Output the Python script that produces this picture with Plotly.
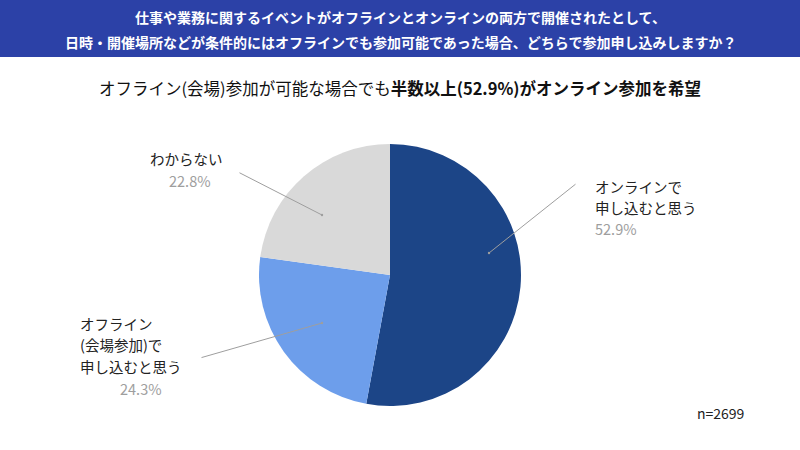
import plotly.graph_objects as go

# 回答の内訳（%）
labels = ["オンラインで<br>申し込むと思う", "オフライン<br>(会場参加)で<br>申し込むと思う", "わからない"]
values = [52.9, 24.3, 22.8]
colors = ["#1c4587", "#6d9eeb", "#d9d9d9"]

title_lines = [
    "仕事や業務に関するイベントがオフラインとオンラインの両方で開催されたとして、",
    "日時・開催場所などが条件的にはオフラインでも参加可能であった場合、どちらで参加申し込みしますか？",
]
subtitle_normal = "オフライン(会場)参加が可能な場合でも"
subtitle_bold = "半数以上(52.9%)がオンライン参加を希望"
n_note = "n=2699"

W, H = 800, 450
FONT = "Noto Sans CJK JP"

fig = go.Figure(go.Pie(
    labels=labels,
    values=values,
    marker=dict(colors=colors),
    sort=False,
    direction="clockwise",
    rotation=0,
    textinfo="none",
    hoverinfo="label+percent",
    domain=dict(x=[259 / W, 521 / W], y=[1 - 406 / H, 1 - 144 / H]),
    showlegend=False,
))

# label layout per slice: dot (px), line end (px), first text line (px)
label_pos = [
    dict(dot=(489, 253), end=(577, 183), x=593, y=186),
    dict(dot=(322, 323), end=(200, 358), x=78, y=323),
    dict(dot=(322, 215), end=(238, 172), x=148, y=158),
]
pct_pos = [(593, 229, "left"), (141, 388, "center"), (190, 180, "center")]
LINE_GAP = 21.5

def px(x, y):
    return x / W, 1 - y / H

annotations = []
for i, (lab, val) in enumerate(zip(labels, values)):
    p = label_pos[i]
    dx, dy = px(*p["dot"])
    annotations.append(dict(
        x=dx, y=dy, xref="paper", yref="paper", text="",
        showarrow=True, arrowhead=6, arrowsize=0.6, arrowwidth=1,
        arrowcolor="#9e9e9e", axref="pixel", ayref="pixel",
        ax=p["end"][0] - p["dot"][0], ay=p["end"][1] - p["dot"][1],
        standoff=0, startstandoff=0,
    ))
    for k, line in enumerate(lab.split("<br>")):
        tx, ty = px(p["x"], p["y"] + LINE_GAP * k)
        annotations.append(dict(
            x=tx, y=ty, xref="paper", yref="paper", text=line,
            showarrow=False, xanchor="left", yanchor="middle",
            font=dict(family=FONT, size=14.5, color="#222222"),
        ))
    qx, qy, qa = pct_pos[i]
    qx, qy = px(qx, qy)
    annotations.append(dict(
        x=qx, y=qy, xref="paper", yref="paper", text=f"{val}%",
        showarrow=False, xanchor=qa, yanchor="middle",
        font=dict(family=FONT, size=14.5, color="#9e9e9e"),
    ))

# header text
for j, line in enumerate(title_lines):
    annotations.append(dict(
        x=0.5, y=1 - (17 + 25 * j) / H, xref="paper", yref="paper", text=f"<b>{line}</b>",
        showarrow=False, xanchor="center", yanchor="middle",
        font=dict(family=FONT, size=14, color="white"),
    ))

annotations.append(dict(
    x=0.5, y=1 - 88 / H, xref="paper", yref="paper",
    text=f"{subtitle_normal}<b>{subtitle_bold}</b>",
    showarrow=False, xanchor="center", yanchor="middle",
    font=dict(family=FONT, size=16.5, color="#111111"),
))

annotations.append(dict(
    x=695 / W, y=1 - 413 / H, xref="paper", yref="paper", text=n_note,
    showarrow=False, xanchor="left", yanchor="middle",
    font=dict(family=FONT, size=14, color="#222222"),
))

fig.update_layout(
    width=W, height=H,
    margin=dict(l=0, r=0, t=0, b=0),
    paper_bgcolor="white",
    plot_bgcolor="white",
    font=dict(family=FONT),
    annotations=annotations,
    shapes=[dict(type="rect", xref="paper", yref="paper", x0=0, x1=1,
                 y0=1 - 57 / H, y1=1, fillcolor="#2c41a7", line=dict(width=0),
                 layer="below")],
)

fig.write_html("out.html", config={"displayModeBar": False},
               post_script="document.body.style.margin='0';")
